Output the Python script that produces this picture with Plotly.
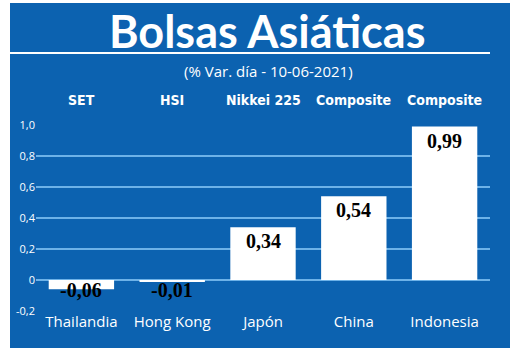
import plotly.graph_objects as go

countries = ["Thailandia", "Hong Kong", "Japón", "China", "Indonesia"]
indices = ["SET", "HSI", "Nikkei 225", "Composite", "Composite"]
values = [-0.06, -0.01, 0.34, 0.54, 0.99]
labels = ["-0,06", "-0,01", "0,34", "0,54", "0,99"]
tick_vals = [-0.2, 0, 0.2, 0.4, 0.6, 0.8, 1.0]
tick_text = ["-0,2", "0", "0,2", "0,4", "0,6", "0,8", "1,0"]

W, H = 520, 352
L, R, T, B = 36, 30, 125, 41
pw, ph = W - L - R, H - T - B
def px(x): return (x - L) / pw
def py(y): return (H - B - y) / ph

BLUE = "#0c62b0"
GRID = "#6db2e8"

fig = go.Figure(go.Bar(x=countries, y=values, marker_color="white",
                       marker_line_width=0, width=0.72, hoverinfo="skip"))

ann = []
for c, v, t in zip(countries, values, labels):
    if v >= 0:
        ann.append(dict(x=c, y=v, yref="y", text="<b>" + t + "</b>", showarrow=False, yanchor="top", yshift=-1,
                        font=dict(family="Liberation Serif", size=20, color="black")))
    else:
        ann.append(dict(x=c, y=0, yref="y", text="<b>" + t + "</b>", showarrow=False, yanchor="top", yshift=3,
                        font=dict(family="Liberation Serif", size=20, color="black")))
for c, n in zip(countries, indices):
    ann.append(dict(x=c, y=py(100), yref="paper", text="<b>" + n + "</b>", showarrow=False,
                    yanchor="middle", font=dict(family="DejaVu Sans Condensed", size=14, color="white")))
ann.append(dict(x=px(267), xref="paper", y=py(31), yref="paper", text="<b>Bolsas Asiáticas</b>",
                showarrow=False, yanchor="middle", xanchor="center",
                font=dict(family="Lato", size=45, color="white")))
ann.append(dict(x=px(268), xref="paper", y=py(71), yref="paper", text="(% Var. día - 10-06-2021)",
                showarrow=False, yanchor="middle", xanchor="center",
                font=dict(family="Open Sans", size=15, color="white")))

shapes = [
    dict(type="rect", xref="paper", yref="paper", x0=px(10), x1=px(510), y0=py(348), y1=py(3),
         fillcolor=BLUE, line_width=0, layer="below"),
    dict(type="line", xref="paper", yref="paper", x0=px(10), x1=px(490), y0=py(53), y1=py(53),
         line=dict(color="white", width=2)),
]

fig.update_layout(
    width=W, height=H, margin=dict(l=L, r=R, t=T, b=B),
    paper_bgcolor="white", plot_bgcolor="rgba(0,0,0,0)",
    showlegend=False, annotations=ann, shapes=shapes,
    xaxis=dict(showgrid=False, showline=False, ticks="", tickfont=dict(family="Open Sans", size=15, color="white")),
    yaxis=dict(range=[-0.2, 1.0], tickvals=tick_vals, ticktext=tick_text, showgrid=True,
               gridcolor=GRID, gridwidth=1.5, zeroline=True, zerolinecolor=GRID, zerolinewidth=1.5,
               tickfont=dict(family="Open Sans", size=11, color="white"), ticklen=0, ticks=""),
    bargap=0.28,
)
fig.write_html("out.html")
